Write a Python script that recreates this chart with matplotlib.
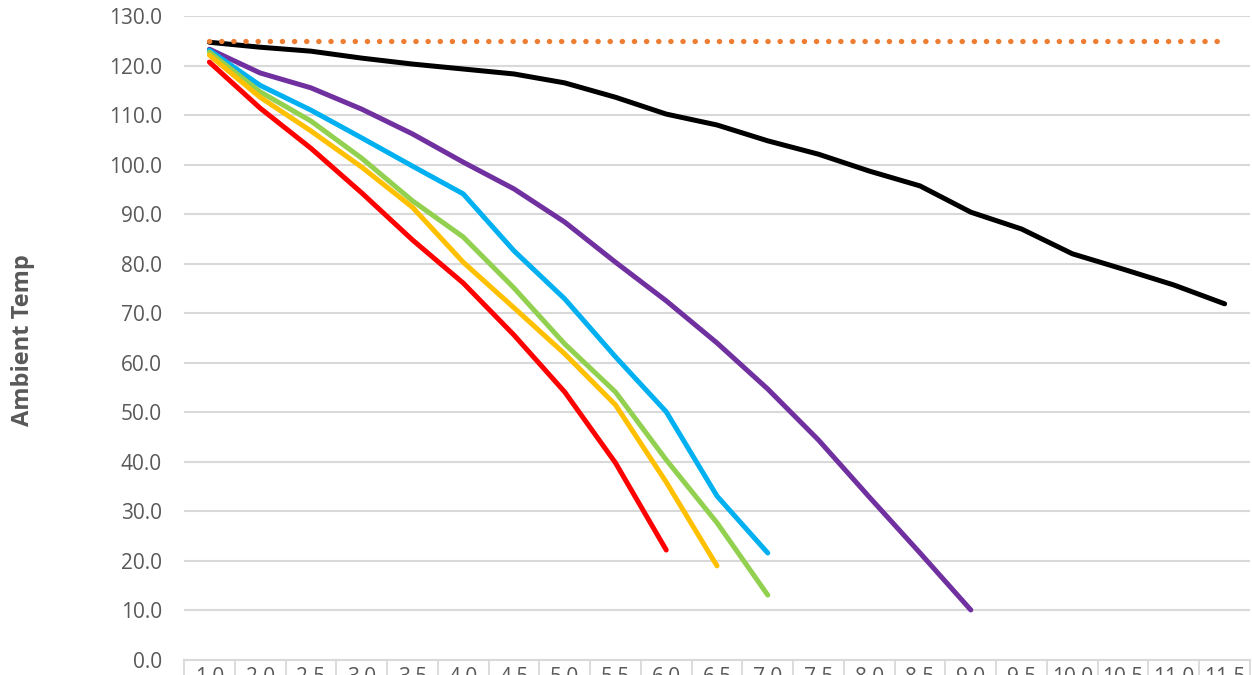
import numpy as np
import matplotlib
matplotlib.use("Agg")
import matplotlib.pyplot as plt
from matplotlib.ticker import FixedLocator

categories = ["1.0", "2.0", "2.5", "3.0", "3.5", "4.0", "4.5", "5.0", "5.5", "6.0", "6.5",
              "7.0", "7.5", "8.0", "8.5", "9.0", "9.5", "10.0", "10.5", "11.0", "11.5"]

limit = [125.0] * 21
black = [124.7, 123.7, 122.9, 121.5, 120.3, 119.3, 118.3, 116.5, 113.6, 110.2, 108.0,
         104.8, 102.1, 98.7, 95.7, 90.4, 87.0, 82.0, 78.9, 75.7, 71.9]
purple = [123.3, 118.5, 115.5, 111.2, 106.2, 100.5, 95.1, 88.4, 80.3, 72.5, 64.0,
          54.7, 44.4, 32.9, 21.6, 10.1]
blue = [123.1, 116.0, 111.0, 105.4, 99.7, 94.1, 82.6, 72.9, 61.2, 50.1, 33.1, 21.6]
green = [122.7, 114.7, 108.8, 101.3, 92.7, 85.4, 75.1, 63.8, 54.1, 40.4, 27.7, 13.1]
yellow = [122.1, 113.6, 106.8, 99.5, 91.4, 80.3, 71.1, 61.8, 51.5, 35.9, 19.0]
red = [120.7, 111.4, 103.3, 94.3, 84.8, 76.1, 65.6, 54.1, 39.8, 22.2]

plt.rcParams['font.family'] = ['Open Sans', 'DejaVu Sans']

fig = plt.figure(figsize=(12.52, 6.75), dpi=100)
ax = fig.add_axes([184 / 1252, 1 - 660 / 675, (1250 - 184) / 1252, (660 - 16) / 675])

lw = 3.6
series = [(purple, "#7030A0"), (blue, "#00B0F0"), (green, "#92D050"),
          (yellow, "#FFC000"), (red, "#FF0000"), (black, "#000000")]
for vals, col in series:
    ax.plot(np.arange(len(vals)), vals, color=col, lw=lw,
            solid_joinstyle="round", solid_capstyle="round", zorder=3)

# dotted limit line
ax.plot(np.arange(len(limit)), limit, color="#ED7D31", lw=3.8,
        linestyle=(0, (0.05, 2.25)), dash_capstyle="round", zorder=4)

ax.set_xlim(-0.5, len(categories) - 0.5)
ax.set_ylim(0, 130)
ax.set_yticks(np.arange(0, 131, 10))
ax.set_yticklabels([f"{v:.1f}" for v in np.arange(0, 131, 10)])
ax.set_xticks(np.arange(len(categories)))
ax.set_xticklabels(categories)
ax.xaxis.set_minor_locator(FixedLocator(np.arange(-0.5, len(categories), 1)))

ax.grid(axis="y", color="#D9D9D9", lw=1.5, zorder=0)
ax.set_axisbelow(True)
for s in ["top", "right", "left"]:
    ax.spines[s].set_visible(False)
ax.spines["bottom"].set_color("#D9D9D9")
ax.spines["bottom"].set_linewidth(1.5)

ax.tick_params(axis="y", length=0, pad=16, labelsize=15, labelcolor="#595959")
ax.tick_params(axis="x", which="major", length=0, pad=5, labelsize=15, labelcolor="#595959")
ax.tick_params(axis="x", which="minor", length=14, width=1.3, color="#D9D9D9", direction="out")

fig.text(23 / 1252, 1 - 340 / 675, "Ambient Temp", rotation=90, ha="center", va="center",
         fontsize=17, fontweight="bold", color="#595959")

fig.savefig("out.png", dpi=100)
